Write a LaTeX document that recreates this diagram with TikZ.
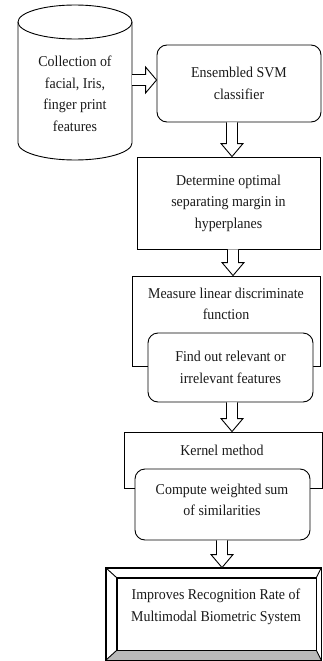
\documentclass[tikz,border=0pt]{standalone}
\usepackage{fontspec}
\setmainfont[FakeStretch=0.93]{Liberation Serif}
\usetikzlibrary{calc}
\newcommand\blockdown[3]{%
  \draw[arr] let \p1=(#1.south), \p2=(#2.north) in
  ({#3pt-5.5pt},\y1) -- ({#3pt-5.5pt},\y2+13pt) -- ({#3pt-11pt},\y2+13pt) -- ({#3pt},\y2)
  -- ({#3pt+11pt},\y2+13pt) -- ({#3pt+5.5pt},\y2+13pt) -- ({#3pt+5.5pt},\y1);}
\begin{document}
\begin{tikzpicture}[x=1pt,y=-1pt,line width=0.9pt,
  txt/.style={font=\fontsize{15}{21.5}\selectfont,align=center,inner sep=0pt,text=black!90},
  boxn/.style={draw,inner sep=0pt,minimum width=#1},
  rbox/.style={draw,rounded corners=10pt,fill=white,inner sep=0pt,minimum width=#1},
  arr/.style={draw,line width=0.9pt,fill=white,line join=miter}]
\useasboundingbox (0,0) rectangle (322,661);
% cylinder
\draw (75,22) ellipse [x radius=57pt, y radius=17pt];
\draw (18,22) -- (18,143) arc[start angle=180,end angle=360,x radius=57pt,y radius=17pt] -- (132,22);
\node[txt] (coll) at (75,94) {Collection of\\facial, Iris,\\finger print\\features};
\coordinate (cylR) at (132,80);
% SVM
\node[rbox=164pt,minimum height=77pt,txt] (svm) at (239,83.5) {Ensembled SVM\\classifier};
% Determine
\node[boxn=183pt,minimum height=92pt,txt] (det) at (228.5,203) {Determine optimal\\separating margin in\\hyperplanes};
% Measure
\node[boxn=188pt,minimum height=90pt] (meas) at (226,321) {};
\node[txt] (meastxt) at (226,304) {Measure linear discriminate\\function};
\node[rbox=165pt,minimum height=69pt,txt] (find) at (230.5,367.5) {Find out relevant or\\irrelevant features};
% Kernel
\node[boxn=198pt,minimum height=56pt] (kern) at (223,460) {};
\node[txt] (kerntxt) at (222,450) {Kernel method};
\node[rbox=175pt,minimum height=71pt] (comp) at (222.5,504.5) {};
\node[txt] (comptxt) at (222,500) {Compute weighted sum\\of similarities};
% Final
\node[boxn=215pt,minimum height=92pt] (fin) at (213.5,614) {};
\node[boxn=199pt,minimum height=72pt] (finin) at (216.5,614) {};
\fill[gray!55] (fin.south west) -- (finin.south west) -- (finin.south east) -- (fin.south east) -- cycle;
\draw (fin.north west) rectangle (fin.south east);
\draw (finin.north west) rectangle (finin.south east);
\draw (fin.north west) -- (finin.north west) (fin.north east) -- (finin.north east)
      (fin.south west) -- (finin.south west) (fin.south east) -- (finin.south east);
\node[txt] (fintxt) at (216,607) {Improves Recognition Rate of\\Multimodal Biometric System};
% arrows
\draw[arr] let \p1=(cylR), \p2=(svm.west) in
  (\x1,\y1+5.5pt) -- (\x2-11pt,\y1+5.5pt) -- (\x2-11pt,\y1+13pt) -- (\x2,\y1)
  -- (\x2-11pt,\y1-13pt) -- (\x2-11pt,\y1-5.5pt) -- (\x1,\y1-5.5pt);
\blockdown{svm}{det}{232}
\blockdown{det}{meas}{233}
\blockdown{find}{kern}{232}
\blockdown{comp}{fin}{222}
\end{tikzpicture}
\end{document}
